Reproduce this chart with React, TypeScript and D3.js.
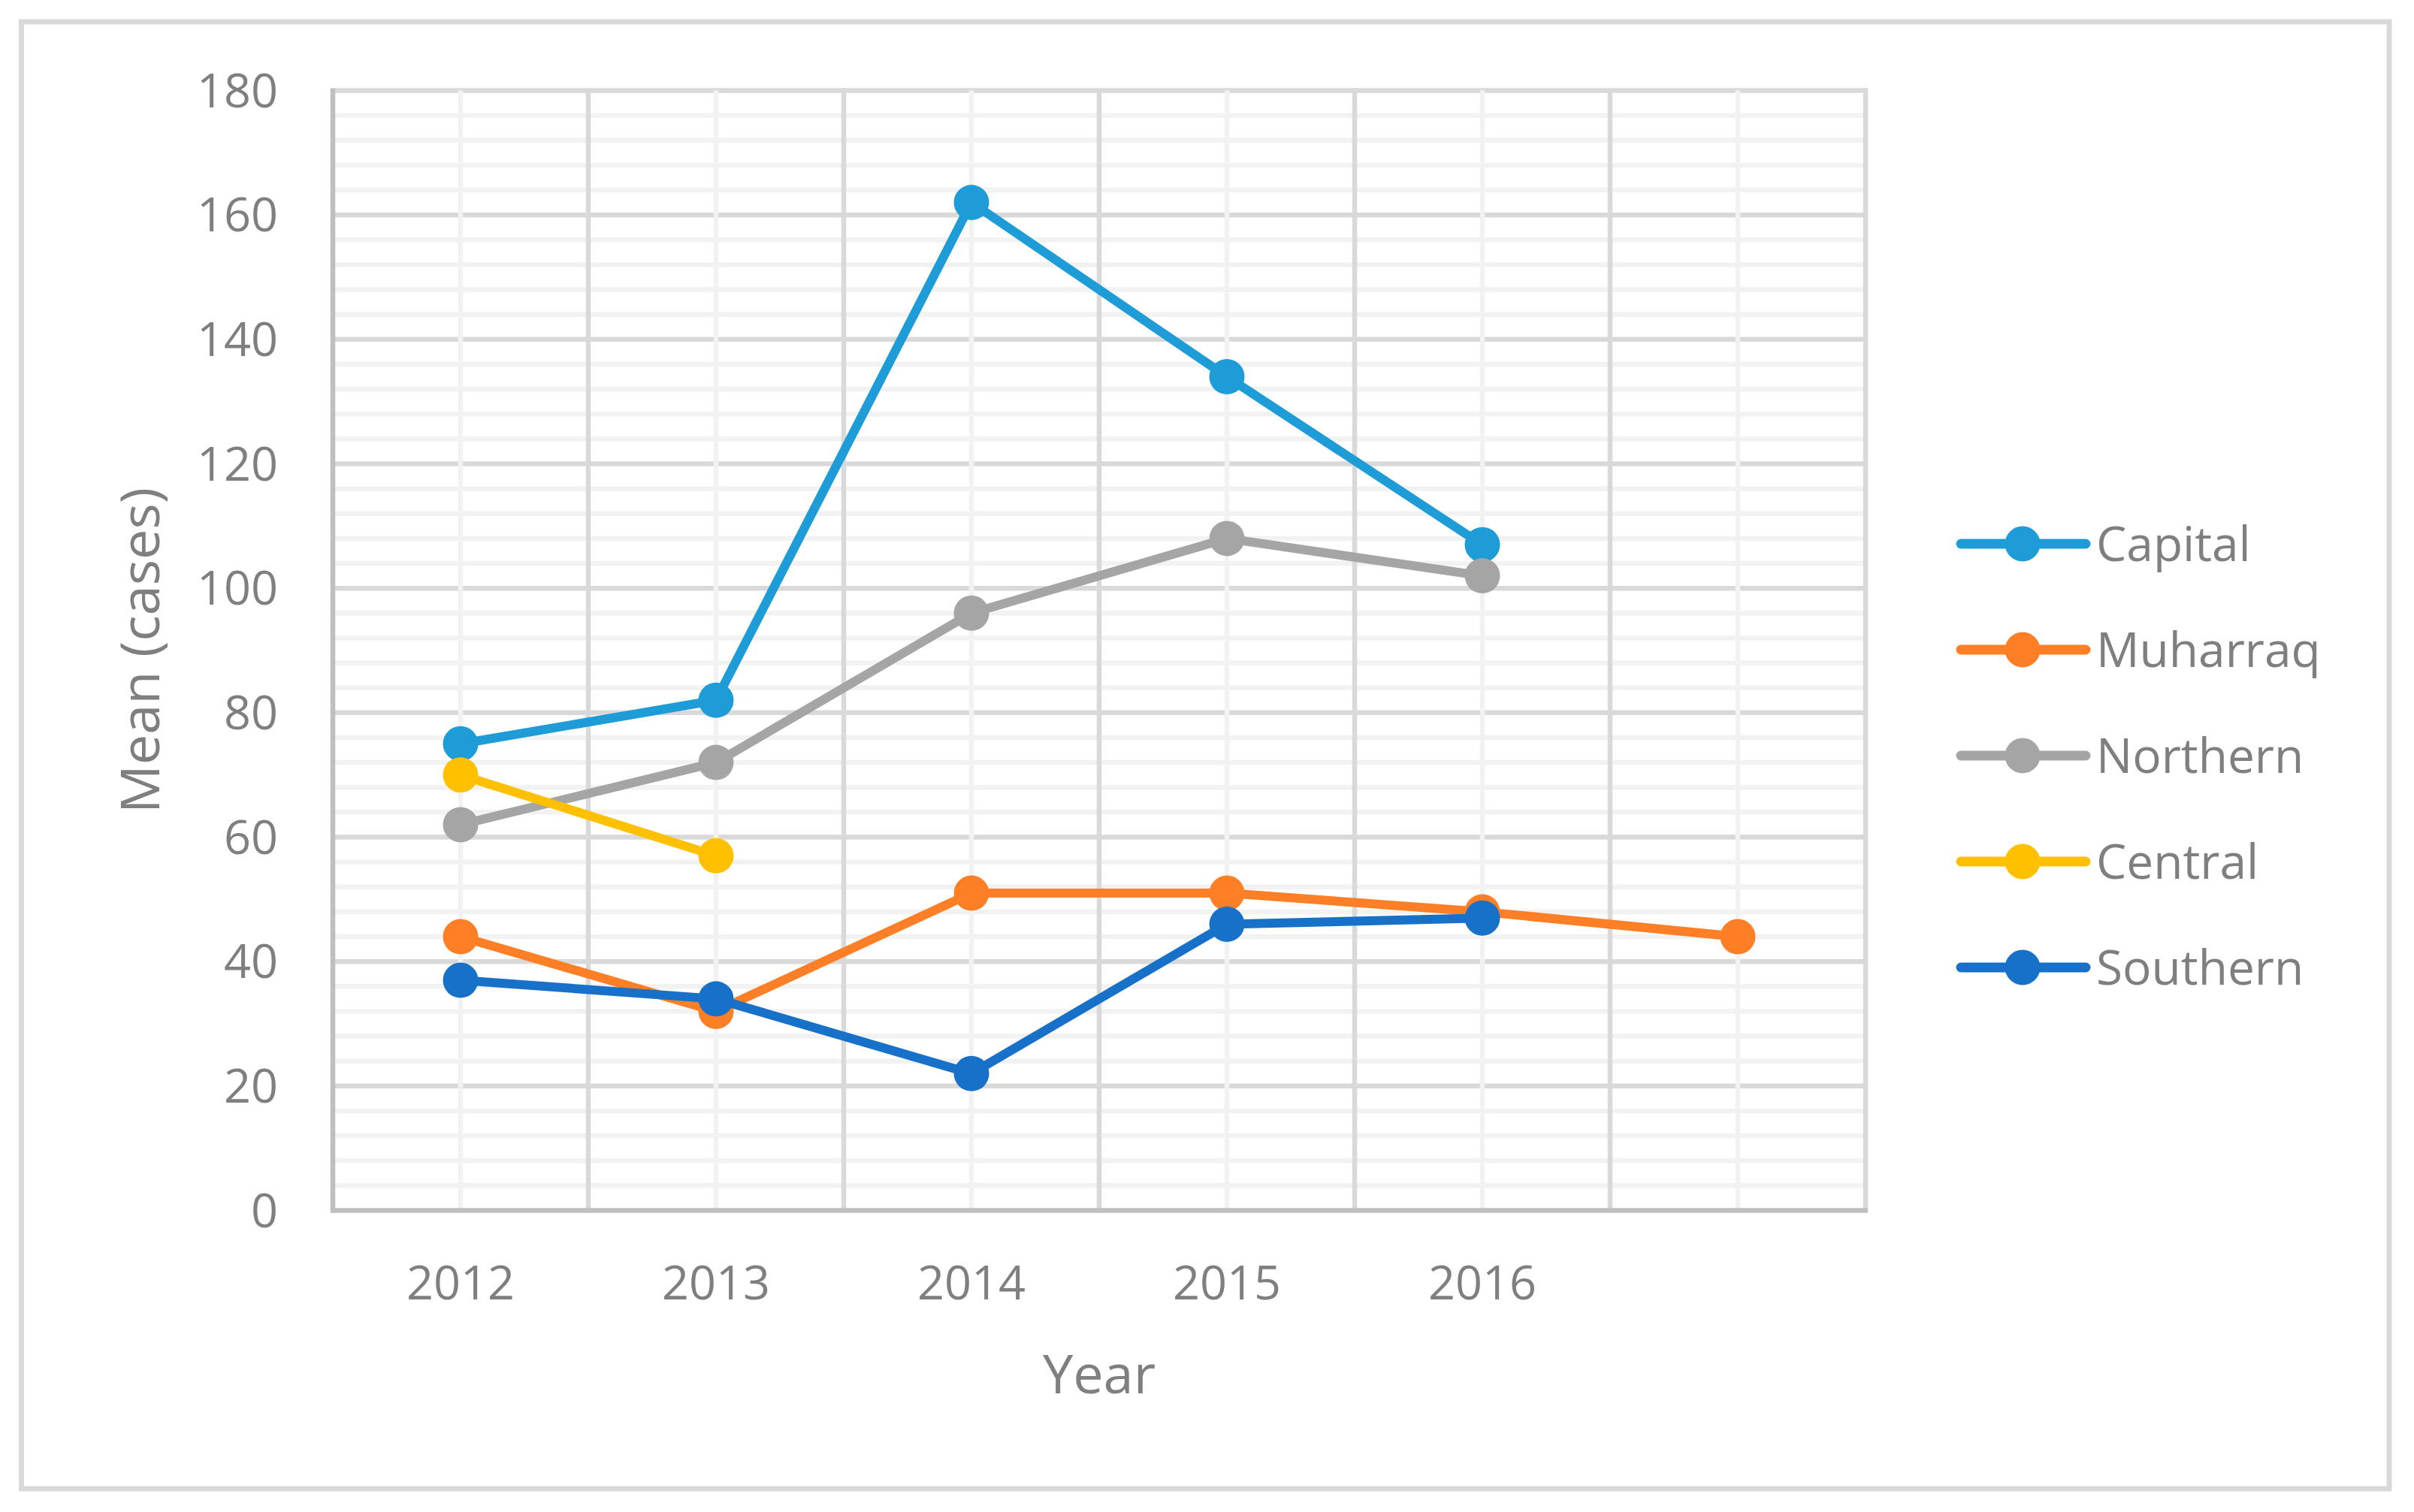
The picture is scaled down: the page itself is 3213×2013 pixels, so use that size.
import React from "react";
import * as d3 from "d3";

const categories = ["2012", "2013", "2014", "2015", "2016", ""];
const seriesNames = ["Capital", "Muharraq", "Northern", "Central", "Southern"];
const capital = [75, 82, 162, 134, 107];
const muharraq = [44, 32, 51, 51, 48, 44];
const northern = [62, 72, 96, 108, 102];
const central = [70, 57];
const southern = [37, 34, 22, 46, 47];
const seriesColors = ["#1e9cd7", "#fe7f26", "#a5a5a5", "#ffc000", "#1771c8"];
const yTicks = [0, 20, 40, 60, 80, 100, 120, 140, 160, 180];
const yMinorTicks = d3.range(0, 181, 4);

const W = 3213;
const H = 2013;
const plot = { left: 443, right: 2483, top: 120.5, bottom: 1611.5 };
const FONT = "'Open Sans', 'Noto Sans', sans-serif";
const TEXT = "#7f7f7f";

export default function App() {
  React.useEffect(() => {
    document.body.style.margin = "0";
    document.body.style.overflow = "hidden";
  }, []);

  const allSeries = [capital, muharraq, northern, central, southern];
  const x = d3.scaleBand<string>().domain(categories.map((c, i) => String(i))).range([plot.left, plot.right]).padding(0);
  const y = d3.scaleLinear().domain([0, 180]).range([plot.bottom, plot.top]);
  const bw = x.bandwidth();
  const cx = (i: number) => (x(String(i)) as number) + bw / 2;
  const line = d3.line<number>().x((_, i) => cx(i)).y((d) => y(d));

  const boundaries = d3.range(1, categories.length + 1).map((i) => plot.left + i * bw);

  const legendY = [724, 865, 1006, 1147, 1288];

  return (
    <svg width={W} height={H} style={{ position: "absolute", left: 0, top: 0, background: "#fff" }} fontFamily={FONT}>
      <rect x={0} y={0} width={W} height={H} fill="#fff" />
      <rect x={28.5} y={29} width={3151.5} height={1953} fill="none" stroke="#d9d9d9" strokeWidth={7} />

      {/* minor horizontal gridlines */}
      {yMinorTicks.filter((t) => t % 20 !== 0).map((t) => (
        <line key={"hm" + t} x1={plot.left} x2={plot.right} y1={y(t)} y2={y(t)} stroke="#f2f2f2" strokeWidth={6.5} />
      ))}
      {/* major horizontal gridlines */}
      {yTicks.filter((t) => t !== 0).map((t) => (
        <line key={"hM" + t} x1={plot.left} x2={plot.right + 3} y1={y(t)} y2={y(t)} stroke="#d9d9d9" strokeWidth={6.5} />
      ))}
      {/* minor vertical gridlines */}
      {categories.map((c, i) => (
        <line key={"vm" + i} x1={cx(i)} x2={cx(i)} y1={plot.top} y2={plot.bottom} stroke="#f2f2f2" strokeWidth={6.5} />
      ))}
      {/* major vertical gridlines */}
      {boundaries.map((b, i) => (
        <line key={"vM" + i} x1={b} x2={b} y1={plot.top - 3} y2={plot.bottom} stroke="#d9d9d9" strokeWidth={6.5} />
      ))}
      {/* axes */}
      <line x1={plot.left} x2={plot.left} y1={plot.top - 3} y2={plot.bottom + 3} stroke="#bfbfbf" strokeWidth={6.5} />
      <line x1={plot.left - 3} x2={plot.right + 3} y1={plot.bottom} y2={plot.bottom} stroke="#bfbfbf" strokeWidth={6.5} />

      {/* y tick labels */}
      {yTicks.map((t) => (
        <text key={"yl" + t} x={370} y={y(t) + 22} textAnchor="end" fontSize={63} fill={TEXT}>
          {t}
        </text>
      ))}
      {/* x tick labels */}
      {categories.map((c, i) => (
        <text key={"xl" + i} x={cx(i)} y={1730} textAnchor="middle" fontSize={63} fill={TEXT}>
          {c}
        </text>
      ))}

      {/* axis titles */}
      <text x={(plot.left + plot.right) / 2} y={1855} textAnchor="middle" fontSize={72} fill={TEXT}>
        Year
      </text>
      <text transform={`translate(212, 866) rotate(-90)`} textAnchor="middle" fontSize={72} fill={TEXT}>
        Mean (cases)
      </text>

      {/* series */}
      {allSeries.map((s, si) => (
        <g key={"s" + si}>
          <path d={line(s) || ""} fill="none" stroke={seriesColors[si]} strokeWidth={12} strokeLinejoin="round" strokeLinecap="round" />
          {s.map((v, i) => (
            <circle key={i} cx={cx(i)} cy={y(v)} r={23.5} fill={seriesColors[si]} />
          ))}
        </g>
      ))}

      {/* legend */}
      {seriesNames.map((n, i) => (
        <g key={"lg" + i}>
          <line x1={2610} x2={2776} y1={legendY[i]} y2={legendY[i]} stroke={seriesColors[i]} strokeWidth={13} strokeLinecap="round" />
          <circle cx={2692} cy={legendY[i]} r={23.5} fill={seriesColors[i]} />
          <text x={2790} y={legendY[i] + 23} fontSize={64} fill={TEXT}>
            {n}
          </text>
        </g>
      ))}
    </svg>
  );
}
